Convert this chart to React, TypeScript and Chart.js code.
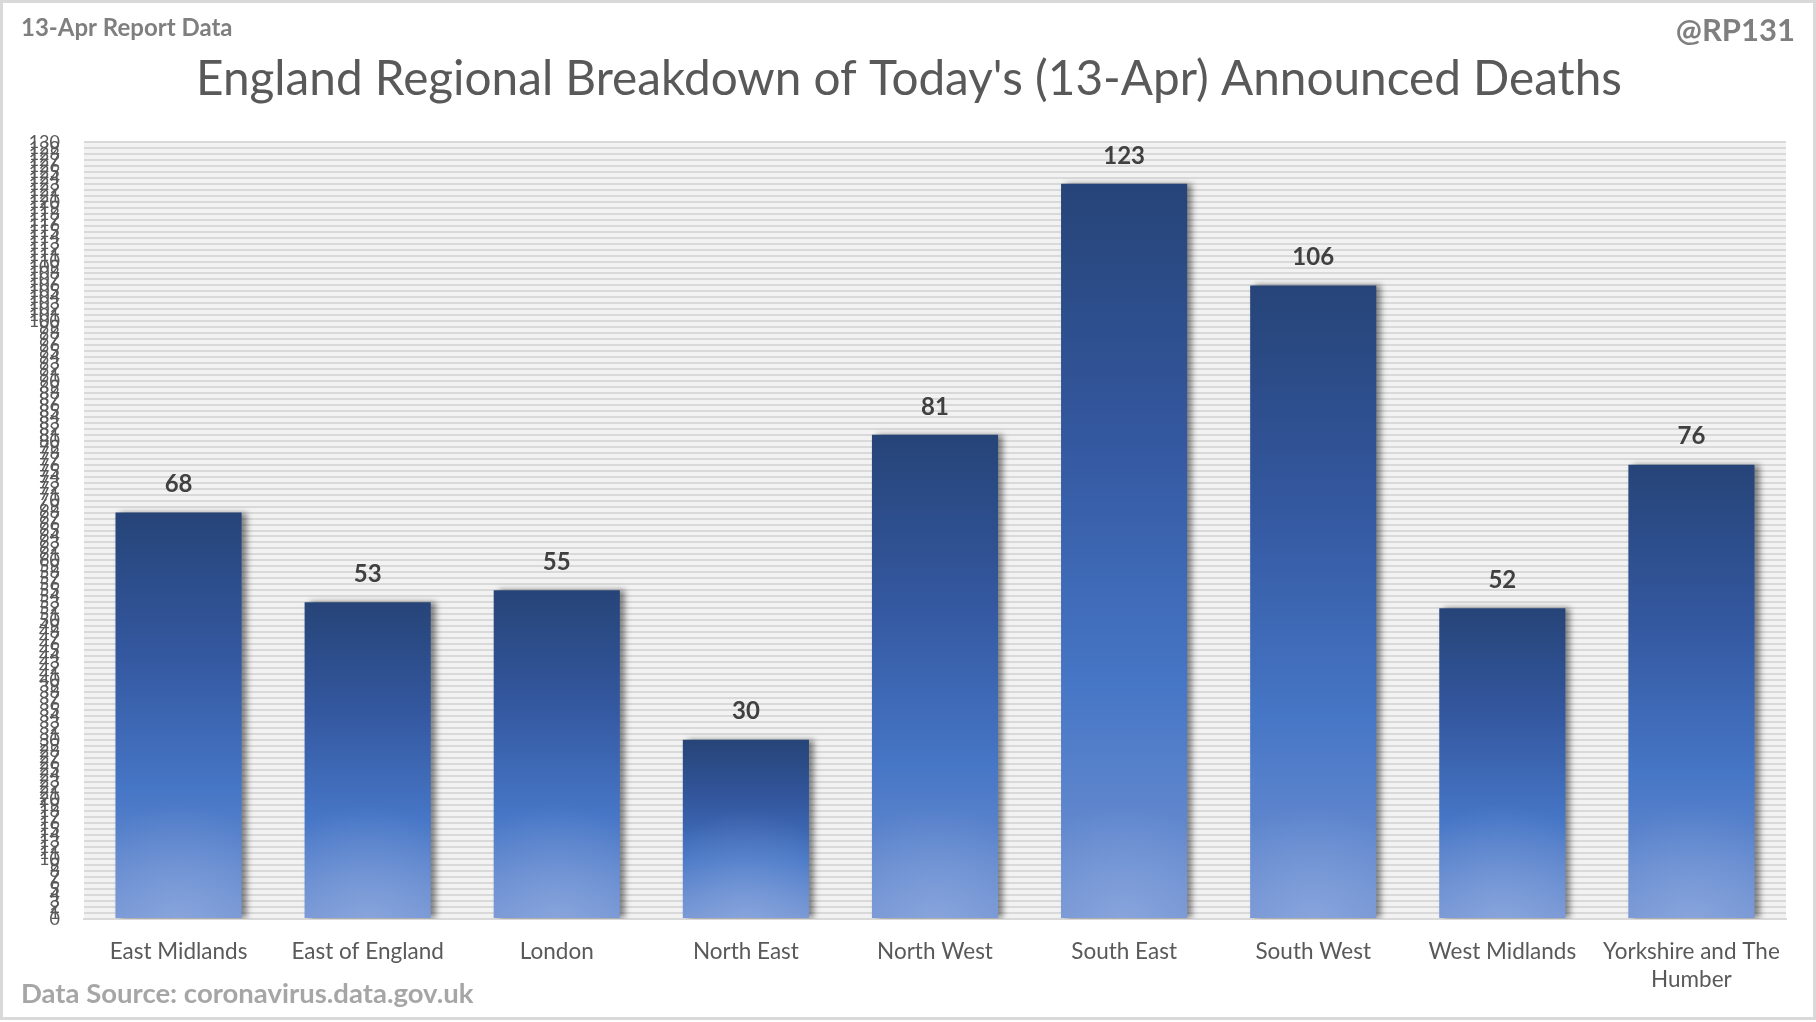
import React, { useEffect, useRef } from "react";
import { Chart, registerables } from "chart.js";

Chart.register(...registerables);

const regions: (string | string[])[] = [
  "East Midlands",
  "East of England",
  "London",
  "North East",
  "North West",
  "South East",
  "South West",
  "West Midlands",
  ["Yorkshire and The", "Humber"],
];
const deaths: number[] = [68, 53, 55, 30, 81, 123, 106, 52, 76];
const yMax = 130;
const yStep = 1;

const titleText = "England Regional Breakdown of Today's (13-Apr) Announced Deaths";
const topLeftText = "13-Apr Report Data";
const topRightText = "@RP131";
const sourceText = "Data Source: coronavirus.data.gov.uk";

const FONT = "Lato, 'Open Sans', sans-serif";

export default function App() {
  const ref = useRef<HTMLCanvasElement>(null);

  useEffect(() => {
    document.body.style.margin = "0";
    const canvas = ref.current!;
    const decor = {
      id: "decor",
      beforeDraw(chart: any) {
        const { ctx, chartArea } = chart;
        ctx.save();
        ctx.fillStyle = "#ffffff";
        ctx.fillRect(0, 0, chart.width, chart.height);
        ctx.fillStyle = "#f2f2f2";
        ctx.fillRect(chartArea.left, chartArea.top, chartArea.right - chartArea.left, chartArea.bottom - chartArea.top);
        ctx.restore();
      },
      beforeDatasetsDraw(chart: any) {
        const ctx = chart.ctx;
        ctx.save();
        ctx.shadowColor = "rgba(0,0,0,0.45)";
        ctx.shadowBlur = 6;
        ctx.shadowOffsetX = 5;
        ctx.shadowOffsetY = 0;
      },
      afterDatasetsDraw(chart: any) {
        const ctx = chart.ctx;
        ctx.restore();
        const meta = chart.getDatasetMeta(0);
        ctx.save();
        // soft light glow at the bottom of each bar
        meta.data.forEach((el: any) => {
          const w = el.width;
          const h = el.base - el.y;
          const cx = el.x;
          const cy = el.base;
          ctx.save();
          ctx.beginPath();
          ctx.rect(el.x - w / 2, el.y, w, h);
          ctx.clip();
          const r = Math.min(w * 0.9, h * 0.6);
          const g = ctx.createRadialGradient(cx, cy, 0, cx, cy, r);
          g.addColorStop(0, "rgba(160,185,230,0.45)");
          g.addColorStop(1, "rgba(160,185,230,0)");
          ctx.fillStyle = g;
          ctx.fillRect(el.x - w / 2, el.y, w, h);
          ctx.restore();
        });
        ctx.fillStyle = "#404040";
        ctx.font = `bold 24px ${FONT}`;
        ctx.textAlign = "center";
        ctx.textBaseline = "middle";
        meta.data.forEach((el: any, i: number) => {
          ctx.fillText(String(deaths[i]), el.x, el.y - 28);
        });
        ctx.restore();
      },
      afterDraw(chart: any) {
        const ctx = chart.ctx;
        ctx.save();
        ctx.textBaseline = "middle";
        ctx.fillStyle = "#595959";
        ctx.font = `47.7px ${FONT}`;
        ctx.textAlign = "center";
        ctx.fillText(titleText, 909, 80);
        ctx.fillStyle = "#7f7f7f";
        ctx.font = `bold 24px ${FONT}`;
        ctx.textAlign = "left";
        ctx.fillText(topLeftText, 21, 28);
        ctx.font = `bold 31px ${FONT}`;
        ctx.textAlign = "right";
        ctx.fillText(topRightText, 1795, 31);
        ctx.fillStyle = "#a6a6a6";
        ctx.font = `bold 27.5px ${FONT}`;
        ctx.textAlign = "left";
        ctx.fillText(sourceText, 21, 994);
        ctx.strokeStyle = "#d9d9d9";
        ctx.lineWidth = 3;
        ctx.strokeRect(1.5, 1.5, 1813, 1017);
        ctx.restore();
      },
    };

    const chart = new Chart(canvas, {
      type: "bar",
      data: {
        labels: regions,
        datasets: [
          {
            data: deaths,
            barPercentage: 0.667,
            categoryPercentage: 1,
            borderWidth: 0,
            backgroundColor: (c: any) => {
              const ch = c.chart;
              const ys = ch.scales?.y;
              const v = c.parsed?.y;
              if (!ys || v == null || !ch.chartArea) return "#4472c4";
              const top = ys.getPixelForValue(v);
              const bottom = ys.getPixelForValue(0);
              const g = ch.ctx.createLinearGradient(0, top, 0, bottom);
              g.addColorStop(0, "#264478");
              g.addColorStop(0.35, "#3458a0");
              g.addColorStop(0.68, "#4676c6");
              g.addColorStop(1, "#7393d3");
              return g;
            },
          },
        ],
      },
      options: {
        animation: false,
        responsive: false,
        maintainAspectRatio: false,
        layout: { padding: { left: 0, right: 30, top: 142, bottom: 0 } },
        plugins: { legend: { display: false }, tooltip: { enabled: false }, title: { display: false } },
        scales: {
          x: {
            grid: { display: false, drawTicks: false },
            border: { display: true, color: "#d9d9d9", width: 2 },
            ticks: { color: "#595959", font: { family: FONT, size: 22.5, lineHeight: 1.25 }, padding: 19, maxRotation: 0, autoSkip: false },
            afterFit: (s: any) => { s.height = 103; },
          },
          y: {
            min: 0,
            max: yMax,
            grid: { color: "#d9d9d9", lineWidth: 2, drawTicks: false },
            border: { display: false },
            ticks: { stepSize: yStep, autoSkip: false, color: "#595959", font: { family: FONT, size: 18 }, padding: 24 },
            afterFit: (s: any) => { s.width = 84; },
          },
        },
      },
      plugins: [decor],
    });
    return () => chart.destroy();
  }, []);

  return (
    <div style={{ position: "absolute", left: 0, top: 0, width: 1816, height: 1022 }}>
      <canvas ref={ref} width={1816} height={1022} style={{ width: 1816, height: 1022 }} />
    </div>
  );
}
